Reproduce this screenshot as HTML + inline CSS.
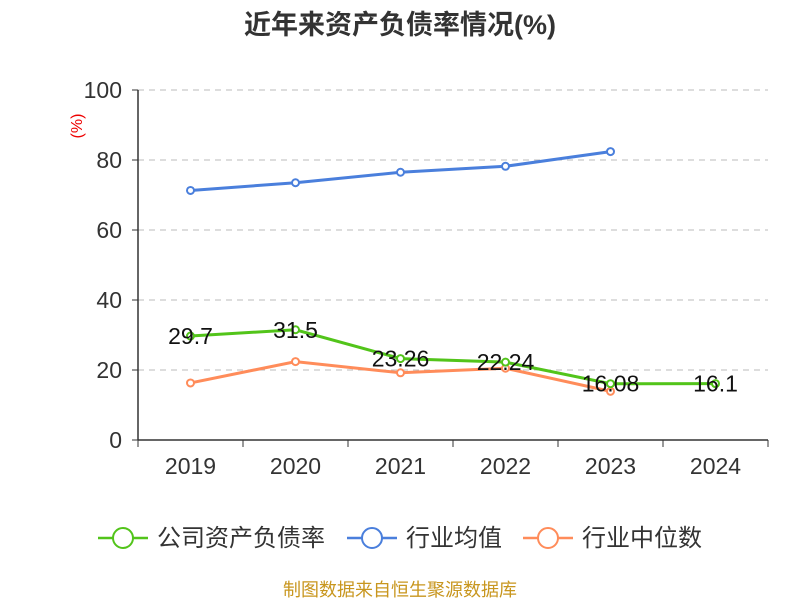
<!DOCTYPE html>
<html><head><meta charset="utf-8"><style>
body{margin:0;background:#fff;}
svg text{font-family:"Liberation Sans","Noto Sans CJK SC",sans-serif;}
</style></head><body>
<svg id="chart" width="800" height="600" xmlns="http://www.w3.org/2000/svg">
<text x="400" y="34" text-anchor="middle" font-size="27" font-weight="bold" fill="#333">近年来资产负债率情况(%)</text>
<text x="82" y="126" transform="rotate(-90 82 126)" text-anchor="middle" font-size="16" fill="#e00">(%)</text>
<g id="grid"></g><g id="axes"></g><g id="series"></g>
<g font-size="24" fill="#333">
<g><line x1="98" y1="538" x2="148" y2="538" stroke="#52c41a" stroke-width="2.5"/><circle cx="123" cy="538" r="10" fill="#fff" stroke="#52c41a" stroke-width="2"/><text x="157" y="546">公司资产负债率</text></g>
<g><line x1="347" y1="538" x2="397" y2="538" stroke="#4a7fdc" stroke-width="2.5"/><circle cx="372" cy="538" r="10" fill="#fff" stroke="#4a7fdc" stroke-width="2"/><text x="406" y="546">行业均值</text></g>
<g><line x1="523" y1="538" x2="573" y2="538" stroke="#ff8c5a" stroke-width="2.5"/><circle cx="548" cy="538" r="10" fill="#fff" stroke="#ff8c5a" stroke-width="2"/><text x="582" y="546">行业中位数</text></g>
</g>
<text x="400" y="596" text-anchor="middle" font-size="18" fill="#c8961e">制图数据来自恒生聚源数据库</text>
</svg>
<script>
const categories=["2019","2020","2021","2022","2023","2024"];
const yTicks=[0,20,40,60,80,100];
const companyValues=[29.7,31.5,23.26,22.24,16.08,16.1];
const companyLabels=["29.7","31.5","23.26","22.24","16.08","16.1"];
const industryAvg=[71.3,73.5,76.5,78.2,82.4,null];
const industryMedian=[16.3,22.4,19.2,20.5,13.9,null];
const NS="http://www.w3.org/2000/svg";
const x0=138,x1=768,yB=440,yT=90;
const bw=(x1-x0)/categories.length;
const xs=i=>x0+bw*(i+0.5);
const ys=v=>yB-(v/100)*(yB-yT);
function mk(tag,attrs,parent,text){const e=document.createElementNS(NS,tag);for(const k in attrs)e.setAttribute(k,attrs[k]);if(text!==undefined)e.textContent=text;parent.appendChild(e);return e;}
const grid=document.getElementById('grid'),axes=document.getElementById('axes'),ser=document.getElementById('series');
yTicks.forEach(t=>{
 if(t>0){const g=mk('line',{x1:x0,x2:x1,y1:ys(t),y2:ys(t),stroke:'#bbb','stroke-dasharray':'6,5','stroke-width':1},grid);
 
 }
 const l=mk('text',{x:122,y:ys(t)+8,'text-anchor':'end','font-size':23,fill:'#333'},axes,String(t));
 
 
 const tk=mk('line',{x1:x0-6,x2:x0,y1:ys(t),y2:ys(t),stroke:'#333'},axes);
 
 
});
const ya=mk('line',{x1:x0,x2:x0,y1:yT,y2:yB,stroke:'#333','stroke-width':1.5},axes);


const xa=mk('line',{x1:x0,x2:x1,y1:yB,y2:yB,stroke:'#333','stroke-width':1.5},axes);


for(let i=0;i<=categories.length;i++){const t=mk('line',{x1:x0+bw*i,x2:x0+bw*i,y1:yB,y2:yB+7,stroke:'#333'},axes);
 
 }
categories.forEach((c,i)=>{const t=mk('text',{x:xs(i),y:474,'text-anchor':'middle','font-size':23,fill:'#333'},axes,c);
 
 });
function line(vals,color,name){
 const pts=vals.map((v,i)=>v==null?null:[xs(i),ys(v)]).filter(p=>p);
 const p=mk('polyline',{points:pts.map(p=>p.join(',')).join(' '),fill:'none',stroke:color,'stroke-width':3},ser);
 
 
 pts.forEach(q=>{const c=mk('circle',{cx:q[0],cy:q[1],r:3.5,fill:'#fff',stroke:color,'stroke-width':2},ser);
 
 });
}
line(industryAvg,'#4a7fdc','industry-avg');
line(industryMedian,'#ff8c5a','industry-median');
line(companyValues,'#52c41a','company');
companyValues.forEach((v,i)=>{const t=mk('text',{x:xs(i),y:ys(v)+8,'text-anchor':'middle','font-size':23,fill:'#111'},ser,companyLabels[i]);
 
 });
</script>
</body></html>
